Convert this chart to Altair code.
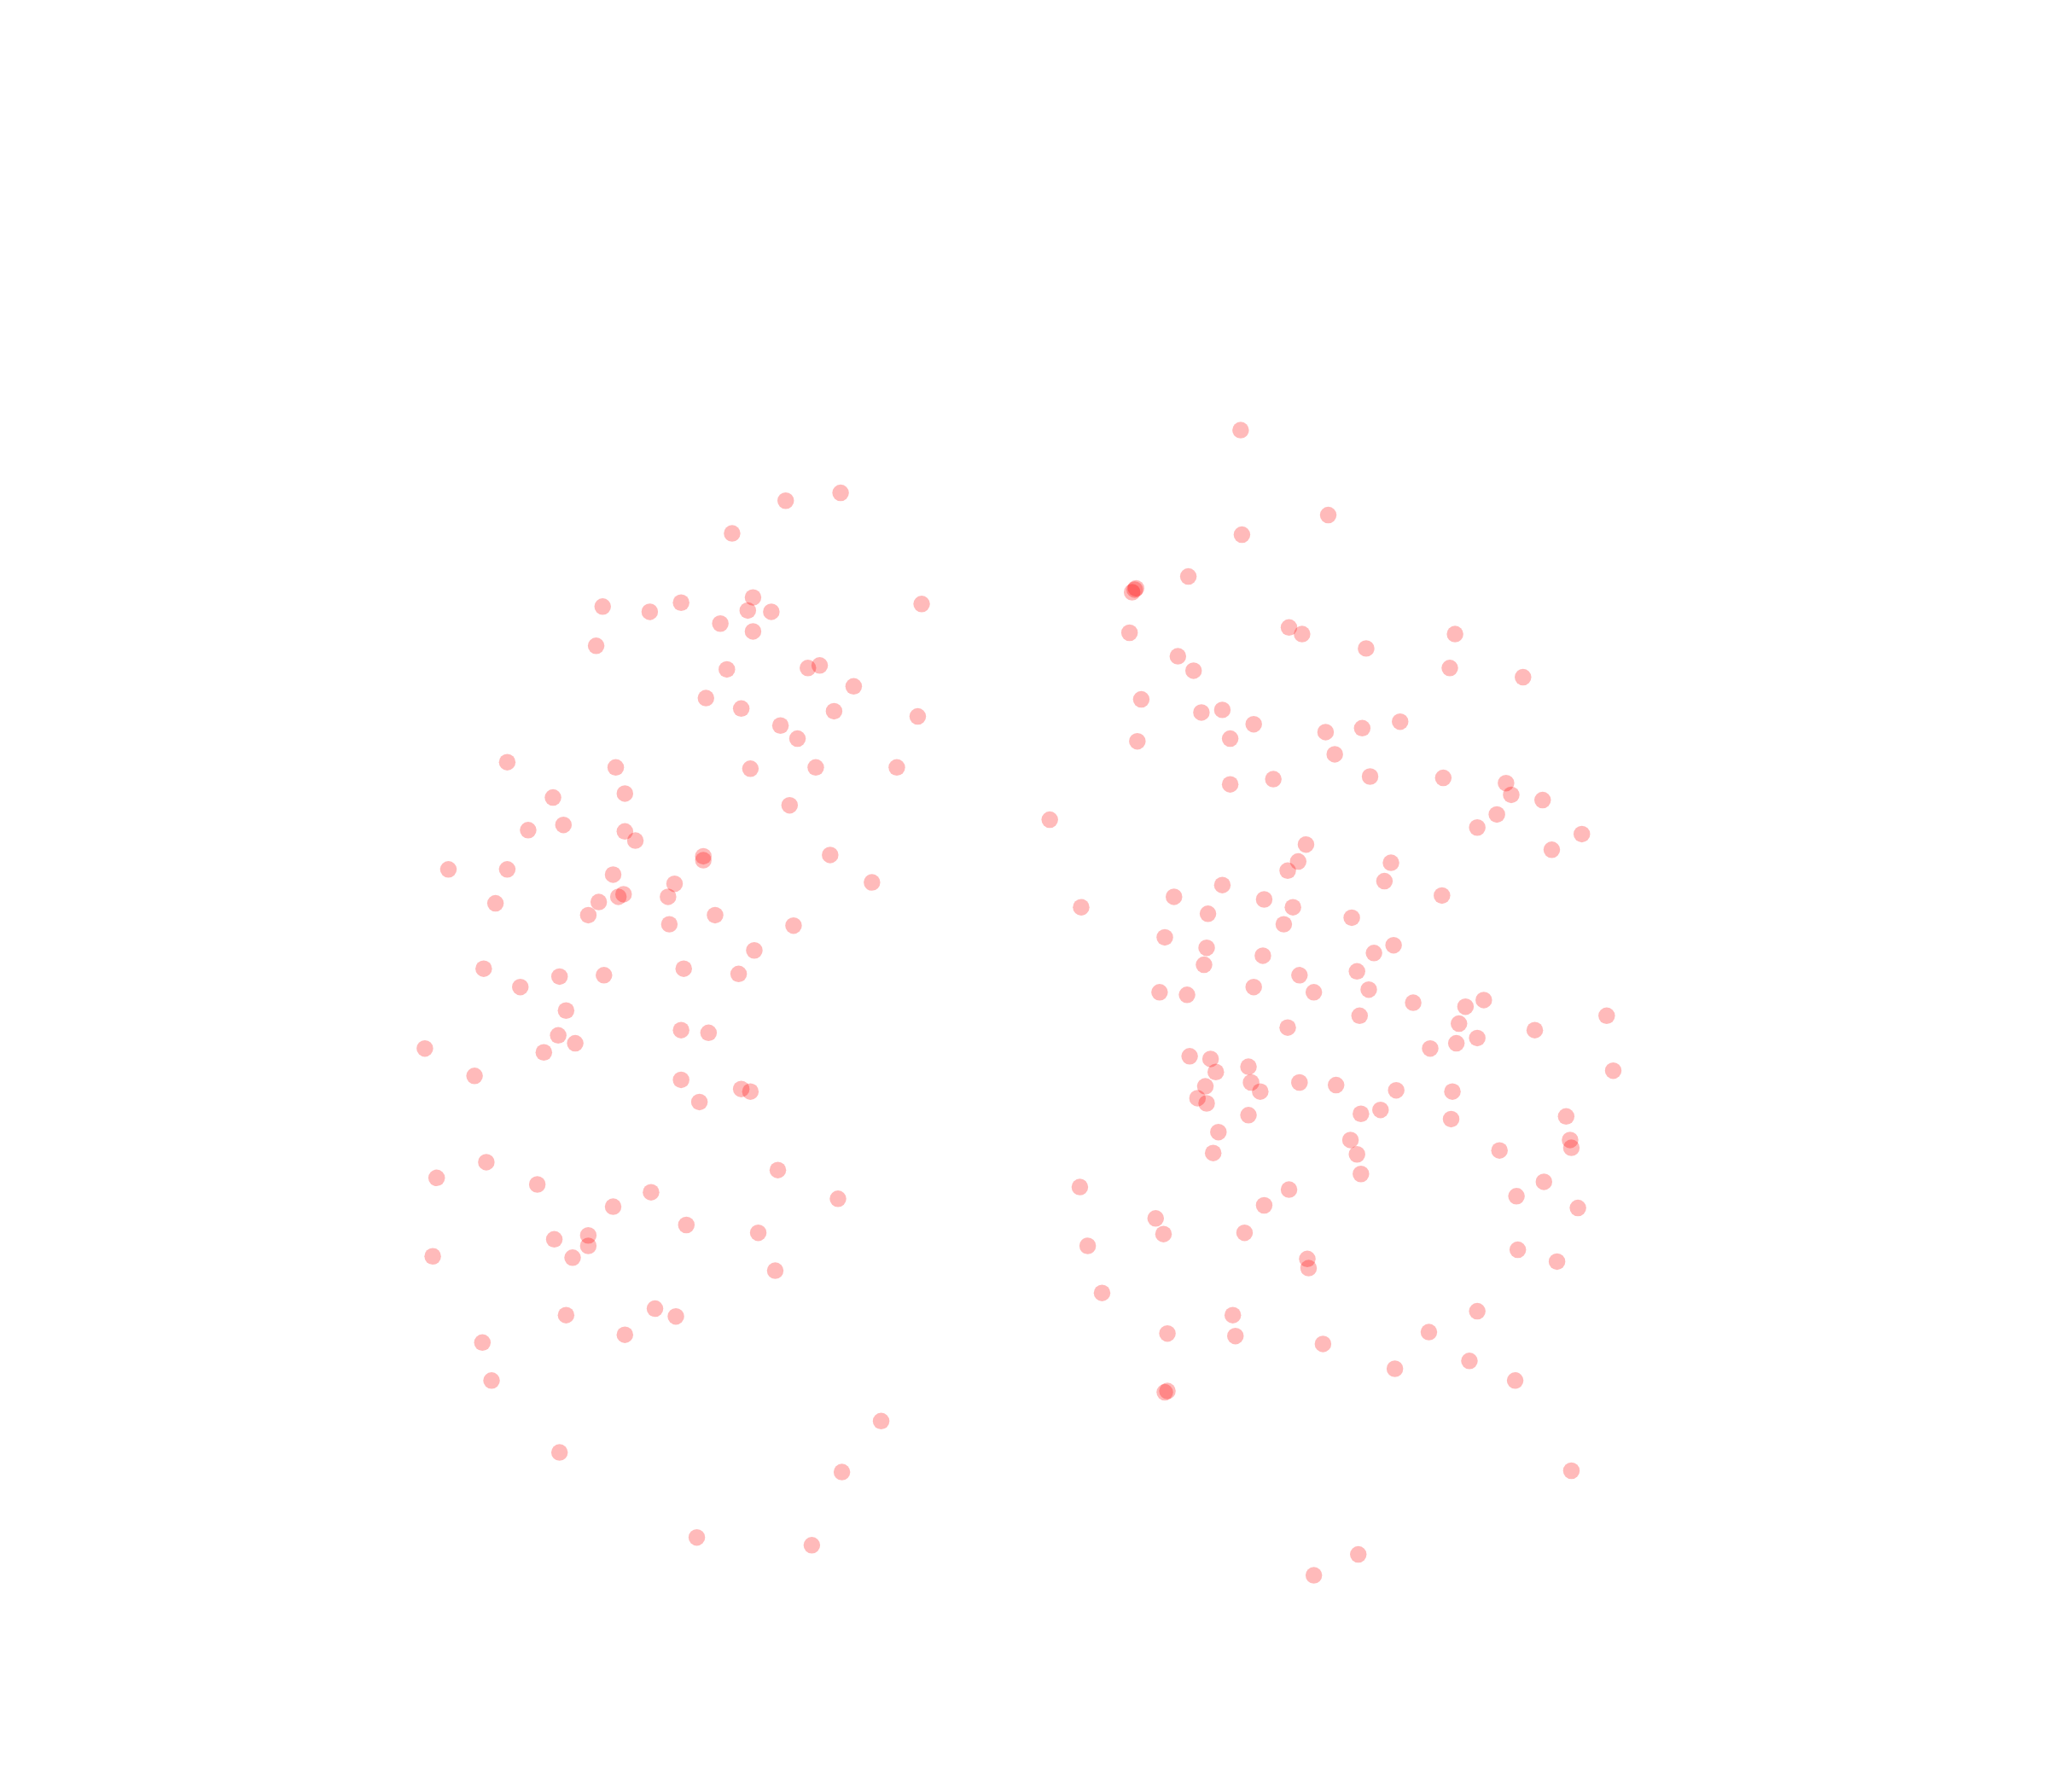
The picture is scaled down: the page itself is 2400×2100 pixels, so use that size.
import altair as alt
import pandas as pd

# Point coordinates (in reference-display units)
left_x = [643, 601, 560, 461, 497, 521, 576, 572, 590, 551, 576, 705, 456, 556, 618, 627, 653, 540, 567, 638,
          702, 597, 610, 574, 624, 686, 471, 388, 478, 423, 604, 431, 404, 478, 486, 538, 538, 635, 343, 388,
          469, 516, 667, 379, 477, 473, 458, 511, 450, 547, 512, 607, 577, 370, 523, 428, 462, 565, 398, 433,
          521, 542, 427, 440, 416, 325, 363, 521, 567, 574, 535, 372, 334, 411, 595, 498, 469, 641, 525, 580,
          424, 450, 450, 438, 331, 593, 433, 501, 517, 478, 369, 376, 674, 428, 644, 533, 621]
left_y = [377, 383, 408, 464, 468, 461, 457, 467, 468, 477, 483, 462, 494, 512, 511, 509, 525, 534, 542, 544,
          548, 555, 565, 588, 587, 587, 587, 583, 607, 610, 616, 631, 635, 636, 643, 655, 658, 654, 665, 665,
          669, 676, 675, 691, 684, 686, 690, 686, 700, 700, 707, 708, 727, 741, 741, 747, 746, 745, 755, 773,
          788, 790, 792, 798, 805, 802, 823, 826, 833, 835, 843, 889, 901, 906, 895, 912, 923, 917, 937, 943,
          948, 945, 953, 962, 961, 972, 1006, 1001, 1007, 1021, 1027, 1056, 1087, 1111, 1126, 1176, 1182]

right_x = [949, 950, 1016, 909, 868, 866, 869, 864, 986, 996, 1045, 1113, 1109, 1165, 901, 913, 873, 919, 935, 959,
           941, 870, 1014, 1042, 1071, 1021, 974, 941, 1048, 1104, 1152, 1156, 1180, 1145, 1130, 1210, 1187, 803, 999, 993,
           985, 1064, 1059, 935, 898, 967, 989, 827, 924, 1034, 1103, 982, 891, 923, 966, 1066, 1051, 921, 994, 1038,
           887, 908, 959, 1005, 1047, 1081, 1135, 1121, 1229, 1040, 1116, 985, 1174, 1130, 1114, 1094, 910, 926, 955, 930,
           957, 922, 964, 994, 1022, 1068, 1111, 1234, 916, 923, 955, 1041, 1056, 1110, 1198, 932, 1033, 1201, 1202, 928,
           1038, 1147, 1041, 1181, 986, 826, 1160, 967, 1207, 884, 890, 952, 832, 1161, 1000, 1001, 1191, 843, 943, 1130,
           893, 945, 1012, 1093, 1067, 1124, 1159, 893, 891, 1202, 1039, 1005]
right_y = [329, 409, 394, 441, 451, 453, 450, 484, 480, 485, 496, 485, 511, 518, 502, 513, 535, 545, 543, 554,
           565, 567, 560, 557, 552, 577, 596, 600, 594, 595, 599, 608, 612, 623, 633, 638, 650, 627, 646, 659,
           666, 660, 674, 677, 686, 688, 694, 694, 699, 702, 685, 707, 717, 725, 731, 723, 729, 738, 746, 743,
           759, 761, 755, 759, 757, 767, 765, 770, 777, 777, 783, 786, 788, 794, 798, 802, 808, 810, 816, 820,
           828, 831, 835, 828, 830, 834, 835, 819, 840, 844, 853, 852, 849, 856, 854, 866, 872, 872, 878, 882,
           883, 880, 898, 904, 910, 908, 915, 922, 924, 932, 944, 943, 953, 956, 963, 970, 965, 989, 1006, 1003,
           1020, 1022, 1028, 1019, 1047, 1041, 1056, 1064, 1065, 1125, 1189, 1205]

df = pd.DataFrame({"x": left_x + right_x, "y": left_y + right_y})

f = 1.532
W, H = 2300, 2000
xdom = [8 / f, (8 + W) / f]
ydom = [8 / f, (8 + H) / f]

chart = alt.Chart(df).mark_circle(color="#ff0000", opacity=0.27, size=380).encode(
    x=alt.X("x:Q", scale=alt.Scale(domain=xdom, nice=False, zero=False), axis=None),
    y=alt.Y("y:Q", scale=alt.Scale(domain=ydom, nice=False, zero=False, reverse=True), axis=None),
).properties(
    width=W, height=H, padding=0, autosize=alt.AutoSizeParams(type="none")
).configure_view(stroke=None)

chart.save("out.html", embed_options={"renderer": "svg", "actions": False})
